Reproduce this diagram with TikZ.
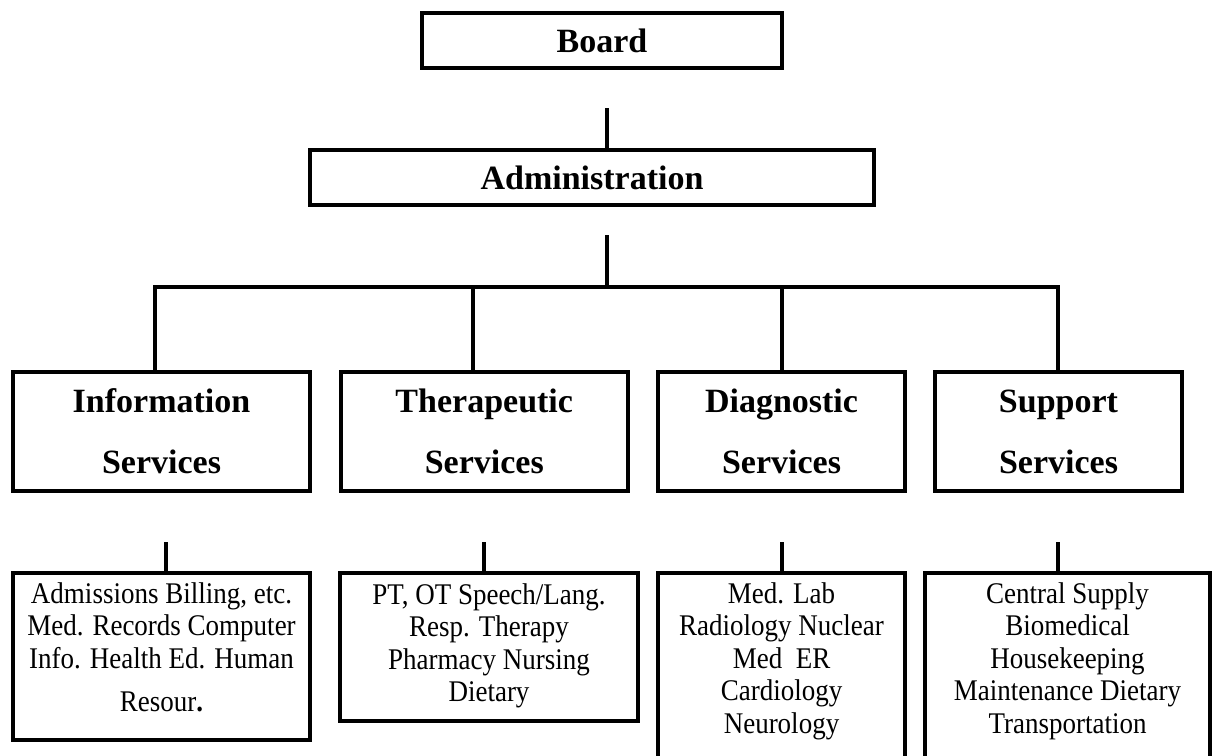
\documentclass[tikz,border=0pt]{standalone}
\usepackage{fontspec}
\setmainfont{Liberation Serif}
\newfontfamily\listfont[FakeStretch=0.9]{Liberation Serif}
\begin{document}
\begin{tikzpicture}[x=1pt,y=-1pt,
  box/.style={draw, line width=4pt, inner sep=0pt},
  title/.style={font=\fontsize{34}{61}\selectfont\bfseries, align=center},
  list/.style={font=\listfont\fontsize{30}{32.5}\selectfont, align=center, inner sep=0pt, anchor=north},
  conn/.style={line width=4pt}]
\useasboundingbox (0,0) rectangle (1212,755);
\clip (0,0) rectangle (1212,755);
% top
\node[box, title, minimum width=360pt, minimum height=55pt] (board) at (602,40.5) {Board};
\node[box, title, minimum width=564pt, minimum height=55pt] (admin) at (592,177.5) {Administration};
% services
\node[box, title, minimum width=297pt, minimum height=119pt] (info) at (161.5,431.5) {Information\\Services};
\node[box, title, minimum width=287.5pt, minimum height=119pt] (ther) at (484.25,431.5) {Therapeutic\\Services};
\node[box, title, minimum width=247pt, minimum height=119pt] (diag) at (781.5,431.5) {Diagnostic\\Services};
\node[box, title, minimum width=247pt, minimum height=119pt] (supp) at (1058.5,431.5) {Support\\Services};
% bottom boxes
\node[box, minimum width=297pt, minimum height=167pt] (infob) at (161.5,656.5) {};
\node[box, minimum width=298pt, minimum height=148pt] (therb) at (489,647) {};
\node[box, minimum width=247pt, minimum height=200pt] (diagb) at (781.5,673) {};
\node[box, minimum width=285pt, minimum height=200pt] (suppb) at (1067.5,673) {};
\node[list] (infot) at ([yshift=-9.25pt]infob.north) {\strut Admissions Billing, etc.\\Med. Records Computer\\Info. Health Ed. Human\\[10.5pt]Resour\textbf{.}};
\node[list] (thert) at ([yshift=-10.25pt]therb.north) {\strut PT, OT Speech/Lang.\\Resp. Therapy\\Pharmacy Nursing\\Dietary};
\node[list] (diagt) at ([yshift=-9.25pt]diagb.north) {\strut Med. Lab\\Radiology Nuclear\\Med~ ER\\Cardiology\\Neurology};
\node[list] (suppt) at ([yshift=-9.25pt]suppb.north) {\strut Central Supply\\Biomedical\\Housekeeping\\Maintenance Dietary\\Transportation};
% connectors
\coordinate (b1) at (607,108);
\draw[conn] (b1) -- (b1 |- admin.north);
\coordinate (a1) at (607,235);
\coordinate (hl) at (607,287);
\draw[conn] (a1) -- (hl);
\coordinate (j1) at (155,287);
\coordinate (j2) at (473,287);
\coordinate (j3) at (782,287);
\coordinate (j4) at (1058,287);
\draw[conn] (j1 |- info.north) -- (j1) -- (j4) -- (j4 |- supp.north);
\draw[conn] (j2) -- (j2 |- ther.north);
\draw[conn] (j3) -- (j3 |- diag.north);
\coordinate (s1) at (166,542);
\coordinate (s2) at (484,542);
\coordinate (s3) at (782,542);
\coordinate (s4) at (1058,542);
\draw[conn] (s1) -- (s1 |- infob.north);
\draw[conn] (s2) -- (s2 |- therb.north);
\draw[conn] (s3) -- (s3 |- diagb.north);
\draw[conn] (s4) -- (s4 |- suppb.north);
\end{tikzpicture}
\end{document}
